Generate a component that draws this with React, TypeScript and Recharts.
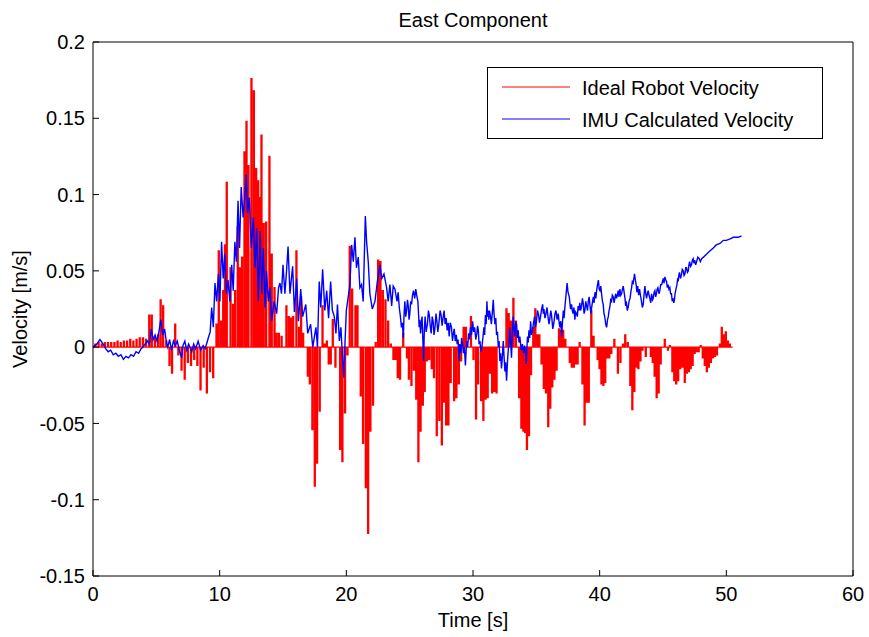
import React from 'react';
import { LineChart, Line, XAxis, YAxis, Legend, Label } from 'recharts';

const FONT = '"Liberation Sans", Arial, Helvetica, sans-serif';

const chartTitle = 'East Component';
const xLabel = 'Time [s]';
const yLabel = 'Velocity [m/s]';
const xTicks = [0, 10, 20, 30, 40, 50, 60];
const yTicks = [-0.15, -0.1, -0.05, 0, 0.05, 0.1, 0.15, 0.2];
const seriesNames = ['Ideal Robot Velocity', 'IMU Calculated Velocity'];
const seriesColors = ['#ff0000', '#0000ff'];

// Ideal robot velocity: pulses [time s, velocity m/s]
const idealPulses: [number, number][] = [
  [0.15, 0.002], [0.4, 0.003], [0.65, 0.002], [0.9, 0.003], [1.15, 0.003], [1.4, 0.003],
  [1.65, 0.003], [1.9, 0.004], [2.15, 0.003], [2.4, 0.004], [2.65, 0.004], [2.9, 0.005],
  [3.15, 0.004], [3.4, 0.005], [3.65, 0.006], [3.9, 0.006], [4.15, 0.005], [4.4, 0.021],
  [4.6, 0.021], [4.85, 0.006], [5.1, 0.008], [5.3, 0.031], [5.5, 0.027], [5.75, 0.004],
  [6.0, -0.012], [6.2, -0.017], [6.45, 0.015], [6.7, -0.005], [6.95, -0.015], [7.2, -0.021],
  [7.45, -0.01], [7.7, -0.012], [7.95, -0.008], [8.2, -0.012], [8.45, -0.028], [8.7, -0.013],
  [8.95, -0.03], [9.2, -0.016], [9.45, -0.02], [9.71, 0.015], [9.89, 0.063], [10.08, 0.017],
  [10.24, 0.037], [10.38, 0.067], [10.52, 0.108], [10.82, 0.052], [11.02, 0.028], [11.18, 0.037],
  [11.39, 0.079], [11.55, 0.052], [11.73, 0.059], [11.92, 0.128], [12.08, 0.148], [12.23, 0.119],
  [12.47, 0.176], [12.66, 0.168], [12.84, 0.117], [13.0, 0.109], [13.1, 0.098], [13.26, 0.139],
  [13.44, 0.081], [13.63, 0.082], [13.89, 0.125], [14.07, 0.061], [14.29, 0.039], [14.44, 0.009],
  [14.63, 0.009], [14.85, 0.007], [15.23, 0.027], [15.42, 0.02], [15.58, 0.019], [15.76, 0.02],
  [16.02, 0.063], [16.23, 0.013], [16.39, 0.033], [16.55, 0.009], [16.92, -0.019], [17.08, -0.024],
  [17.28, -0.054], [17.47, -0.091], [17.65, -0.076], [17.86, -0.042], [18.08, 0.027], [18.26, 0.002],
  [18.42, 0.004], [18.57, -0.011], [18.73, -0.011], [18.89, 0.018], [19.1, -0.013], [19.47, -0.067],
  [19.65, -0.075], [19.86, -0.043], [20.05, -0.005], [20.23, 0.066], [20.42, 0.038], [20.68, 0.027],
  [20.84, 0.027], [21.1, -0.032], [21.28, -0.063], [21.5, -0.092], [21.68, -0.122], [21.86, -0.055],
  [22.07, -0.038], [22.28, 0.003], [22.47, 0.057], [22.65, 0.056], [22.84, 0.037], [23.05, 0.031],
  [23.26, 0.017], [23.47, 0.002], [23.68, -0.008], [23.85, -0.008], [24.02, -0.02], [24.2, -0.021],
  [24.45, 0.009], [24.75, -0.007], [24.9, -0.021], [25.1, -0.025], [25.3, -0.015], [25.48, -0.034],
  [25.65, -0.075], [25.82, -0.055], [26.0, -0.038], [26.15, -0.029], [26.32, -0.009], [26.5, -0.008],
  [26.7, -0.014], [26.88, -0.02], [27.1, -0.058], [27.3, -0.048], [27.5, -0.064], [27.68, -0.036],
  [27.84, -0.051], [28.02, -0.051], [28.2, -0.023], [28.47, -0.035], [28.65, -0.033], [28.84, -0.024],
  [29.02, -0.009], [29.22, 0.013], [29.4, 0.013], [29.8, 0.02], [30.0, -0.008], [30.2, -0.047],
  [30.36, -0.024], [30.6, -0.035], [30.78, -0.048], [30.95, -0.034], [31.12, -0.033], [31.3, -0.017],
  [31.47, -0.03], [31.65, -0.029], [31.82, -0.03], [32.6, 0.025], [32.78, 0.022], [32.95, 0.017],
  [33.15, 0.032], [33.35, 0.017], [33.6, -0.033], [33.78, -0.053], [33.94, -0.055], [34.08, -0.056],
  [34.22, -0.067], [34.38, -0.058], [34.54, -0.018], [34.72, 0.013], [34.88, 0.025], [35.04, 0.008],
  [35.2, 0.008], [35.37, -0.011], [35.55, -0.027], [35.72, -0.03], [35.9, -0.052], [36.06, -0.04],
  [36.22, -0.026], [36.39, -0.021], [36.56, -0.015], [36.75, 0.012], [36.92, 0.011], [37.08, 0.011],
  [37.25, 0.005], [37.6, -0.01], [37.76, -0.013], [37.92, -0.013], [38.07, -0.011], [38.22, -0.011],
  [38.38, 0.003], [38.6, -0.024], [38.77, -0.051], [38.95, -0.036], [39.1, -0.036], [39.3, 0.024],
  [39.48, 0.007], [39.8, -0.008], [39.95, -0.014], [40.1, -0.024], [40.25, -0.025], [40.4, -0.023],
  [40.56, -0.007], [40.72, -0.007], [40.88, -0.004], [41.12, 0.005], [41.4, -0.017], [41.6, -0.01],
  [41.8, 0.002], [41.98, 0.008], [42.18, 0.003], [42.38, -0.025], [42.54, -0.041], [42.7, -0.029],
  [42.86, -0.013], [43.02, -0.014], [43.18, -0.009], [43.34, -0.002], [43.6, -0.006], [44.0, -0.006],
  [44.15, -0.01], [44.3, -0.019], [44.46, -0.033], [44.62, -0.03], [44.78, -0.011], [45.1, 0.005],
  [45.35, -0.002], [45.5, 0.001], [45.7, -0.016], [45.85, -0.022], [46.0, -0.024], [46.16, -0.022],
  [46.32, -0.014], [46.5, -0.013], [46.68, -0.023], [46.84, -0.017], [47.0, -0.016], [47.15, -0.014],
  [47.3, -0.012], [47.46, -0.004], [47.62, -0.003], [47.78, -0.003], [47.94, 0.001], [48.1, -0.007],
  [48.26, -0.012], [48.42, -0.016], [48.58, -0.013], [48.74, -0.01], [48.9, -0.007], [49.06, -0.006],
  [49.22, -0.005], [49.45, 0.002], [49.6, 0.013], [49.76, 0.008], [49.92, 0.01], [50.08, 0.004],
  [50.24, 0.002],
];
const idealEndTime = 50.5;
const idealPulseWidth = 0.08;

// IMU calculated velocity samples [time s, velocity m/s]
const imuSamples: [number, number][] = [
  [0, 0], [0.3, 0.002], [0.55, 0.005], [0.8, 0.002], [1.0, -0.001], [1.2, -0.003], [1.4, -0.002],
  [1.6, -0.005], [1.8, -0.004], [2.0, -0.006], [2.2, -0.005], [2.4, -0.008], [2.6, -0.006], [2.8, -0.007],
  [3.0, -0.005], [3.2, -0.006], [3.4, -0.003], [3.6, -0.004], [3.8, -0.001], [3.95, 0], [4.1, 0.002],
  [4.3, 0.004], [4.45, 0.002], [4.6, 0.012], [4.75, 0.005], [4.9, 0.008], [5.05, 0.004], [5.2, 0.01],
  [5.35, 0.018], [5.5, 0.008], [5.65, 0.012], [5.8, 0.003], [5.9, 0], [6.05, 0.005], [6.2, -0.002],
  [6.35, 0.004], [6.5, 0.001], [6.65, 0.004], [6.85, -0.003], [7.0, -0.007], [7.1, 0.001], [7.25, 0.004],
  [7.4, -0.002], [7.55, 0.002], [7.8, -0.003], [7.95, 0.002], [8.1, -0.001], [8.3, 0.004], [8.5, -0.002],
  [8.7, 0.001], [8.85, -0.001], [9.0, 0.003], [9.1, 0.006], [9.25, 0.01], [9.37, 0.026], [9.5, 0.013],
  [9.63, 0.042], [9.76, 0.03], [9.9, 0.048], [10.02, 0.03], [10.15, 0.069], [10.28, 0.045], [10.4, 0.061],
  [10.53, 0.035], [10.66, 0.044], [10.8, 0.03], [10.95, 0.054], [11.07, 0.037], [11.2, 0.069], [11.32, 0.056],
  [11.45, 0.096], [11.57, 0.065], [11.7, 0.105], [11.85, 0.085], [12.0, 0.1], [12.1, 0.113], [12.2, 0.088],
  [12.34, 0.098], [12.5, 0.065], [12.66, 0.085], [12.79, 0.052], [12.92, 0.078], [13.05, 0.03], [13.2, 0.076],
  [13.32, 0.035], [13.45, 0.065], [13.58, 0.026], [13.7, 0.05], [13.84, 0.03], [13.97, 0.039], [14.1, 0.017],
  [14.3, 0.03], [14.5, 0.022], [14.65, 0.039], [14.76, 0.042], [14.88, 0.035], [15.0, 0.054], [15.15, 0.035],
  [15.28, 0.05], [15.4, 0.066], [15.55, 0.035], [15.76, 0.053], [15.9, 0.023], [16.08, 0.045], [16.22, 0.017],
  [16.4, 0.038], [16.55, 0.02], [16.8, 0.028], [16.95, 0.009], [17.18, 0.015], [17.35, 0], [17.6, 0.013],
  [17.72, 0], [17.86, 0.043], [17.98, 0.026], [18.13, 0.051], [18.3, 0.024], [18.45, 0.037], [18.6, 0.019],
  [18.76, 0.043], [18.9, 0.024], [19.05, 0.02], [19.18, 0.009], [19.3, 0.028], [19.45, 0.004], [19.57, 0.013],
  [19.7, -0.007], [19.8, -0.02], [19.9, 0.004], [20.0, 0.024], [20.15, 0.033], [20.28, 0.041], [20.42, 0.067],
  [20.55, 0.056], [20.68, 0.072], [20.8, 0.052], [20.94, 0.059], [21.07, 0.039], [21.2, 0.041], [21.33, 0.03],
  [21.5, 0.086], [21.6, 0.069], [21.73, 0.056], [21.86, 0.035], [22.05, 0.025], [22.26, 0.03], [22.45, 0.043],
  [22.65, 0.054], [22.8, 0.045], [22.97, 0.048], [23.18, 0.039], [23.3, 0.03], [23.44, 0.041], [23.58, 0.027],
  [23.7, 0.04], [23.84, 0.038],
  [24.0, 0.03], [24.09, 0.036], [24.18, 0.026], [24.27, 0.02], [24.35, 0.013], [24.42, 0.016], [24.5, 0.006],
  [24.56, 0.022], [24.62, 0.03], [24.69, 0.02], [24.76, 0.024], [24.83, 0.031], [24.9, 0.026], [24.95, 0.018],
  [25.0, 0.021], [25.08, 0.03], [25.15, 0.028], [25.22, 0.034], [25.3, 0.037], [25.4, 0.032], [25.48, 0.038],
  [25.56, 0.034], [25.65, 0.03], [25.7, 0.022], [25.75, 0.013], [25.8, 0.018], [25.86, 0.009], [25.92, 0.016],
  [25.98, 0.02], [26.04, 0.005], [26.1, -0.009], [26.16, 0.012], [26.22, 0.02], [26.3, 0.01], [26.4, 0.015],
  [26.48, 0.024], [26.55, 0.021], [26.62, 0.014], [26.7, 0.009], [26.78, 0.02], [26.85, 0.017], [26.92, 0.008],
  [27.0, 0.013], [27.08, 0.022], [27.15, 0.017], [27.22, 0.01], [27.3, 0.015], [27.4, 0.024], [27.48, 0.021],
  [27.56, 0.014], [27.65, 0.02], [27.72, 0.024], [27.8, 0.015], [27.88, 0.019], [27.96, 0.011], [28.04, 0.016],
  [28.12, 0.007], [28.2, 0.016], [28.3, 0.013], [28.38, 0.004], [28.45, 0.009], [28.52, 0.012], [28.6, 0.004],
  [28.68, 0.008], [28.75, 0.002], [28.82, 0.005], [28.9, -0.009], [28.95, 0.002], [29.0, 0], [29.05, -0.004],
  [29.1, 0.006], [29.18, 0.002], [29.25, -0.004], [29.32, 0], [29.4, -0.012], [29.46, -0.002], [29.52, 0.004],
  [29.58, 0], [29.65, 0.009], [29.72, 0.005], [29.8, 0.013], [29.88, 0.008], [29.97, 0.017], [30.05, 0.01],
  [30.13, 0.013], [30.22, 0.005], [30.3, 0.009], [30.36, 0.014], [30.42, 0.011], [30.48, 0.002], [30.55, 0.004],
  [30.62, -0.003], [30.7, 0], [30.78, 0.006], [30.86, 0.013], [30.92, 0.008], [30.98, 0.021], [31.04, 0.015],
  [31.1, 0.03], [31.15, 0.02], [31.2, 0.024], [31.25, 0.018], [31.3, 0.024], [31.38, 0.02], [31.45, 0.015],
  [31.52, 0.022], [31.6, 0.031], [31.66, 0.022], [31.73, 0.015], [31.8, 0.019], [31.86, 0.008], [31.93, 0.01],
  [32.0, 0], [32.06, 0.004], [32.12, -0.009], [32.18, -0.004], [32.25, -0.014], [32.32, -0.006], [32.39, 0.004],
  [32.45, -0.006], [32.52, -0.016], [32.58, -0.01], [32.65, -0.022], [32.72, -0.01], [32.78, -0.002], [32.85, 0.004],
  [32.91, 0.013], [32.98, 0.002], [33.04, -0.007], [33.1, 0.008], [33.17, 0.02], [33.24, 0.012], [33.3, 0.007],
  [33.37, 0.016], [33.44, 0.015], [33.5, 0.006], [33.57, 0.011], [33.63, 0.003], [33.7, 0.007], [33.8, -0.002],
  [33.9, 0.002], [33.98, -0.004], [34.07, 0.001], [34.14, -0.004], [34.2, -0.011], [34.25, -0.002], [34.3, 0.007],
  [34.36, 0.003], [34.42, 0.011], [34.48, 0.006], [34.55, 0.017], [34.62, 0.008], [34.7, 0.011], [34.78, 0.016],
  [34.86, 0.02], [34.93, 0.013], [35.0, 0.016], [35.09, 0.024], [35.18, 0.021], [35.25, 0.016], [35.33, 0.02],
  [35.42, 0.025], [35.5, 0.028], [35.55, 0.022], [35.6, 0.025], [35.68, 0.019], [35.76, 0.022], [35.84, 0.026],
  [35.92, 0.02], [36.0, 0.015], [36.07, 0.019], [36.14, 0.024], [36.2, 0.021], [36.3, 0.012], [36.39, 0.016],
  [36.47, 0.022], [36.55, 0.024], [36.64, 0.018], [36.73, 0.022], [36.8, 0.016], [36.86, 0.013], [36.93, 0.017],
  [37.0, 0.007], [37.06, 0.016], [37.13, 0.024], [37.19, 0.019], [37.25, 0.026], [37.34, 0.034], [37.43, 0.042],
  [37.5, 0.036], [37.6, 0.033], [37.7, 0.025], [37.78, 0.028], [37.84, 0.024], [37.9, 0.022], [37.97, 0.026],
  [38.04, 0.018], [38.1, 0.023], [38.17, 0.022], [38.24, 0.02], [38.3, 0.027], [38.37, 0.024], [38.43, 0.029],
  [38.5, 0.024], [38.57, 0.027], [38.64, 0.032], [38.7, 0.029], [38.77, 0.022], [38.83, 0.024], [38.9, 0.03],
  [38.97, 0.027], [39.04, 0.024], [39.1, 0.03], [39.17, 0.033], [39.23, 0.028], [39.3, 0.022], [39.37, 0.026],
  [39.44, 0.03], [39.5, 0.033], [39.56, 0.029], [39.63, 0.036], [39.7, 0.032], [39.76, 0.037], [39.83, 0.041],
  [39.9, 0.044], [39.96, 0.038], [40.02, 0.037], [40.09, 0.04], [40.15, 0.035], [40.22, 0.03], [40.28, 0.028],
  [40.34, 0.022], [40.4, 0.02], [40.48, 0.015], [40.55, 0.013], [40.62, 0.018], [40.68, 0.02], [40.74, 0.024],
  [40.8, 0.026], [40.87, 0.031], [40.94, 0.03], [41.0, 0.034], [41.07, 0.033], [41.14, 0.029], [41.2, 0.032],
  [41.27, 0.035], [41.33, 0.032], [41.4, 0.034], [41.46, 0.037], [41.53, 0.033], [41.6, 0.038], [41.66, 0.034],
  [41.73, 0.035], [41.8, 0.038], [41.86, 0.04], [41.93, 0.036], [42.0, 0.032], [42.05, 0.027], [42.1, 0.03],
  [42.18, 0.024], [42.25, 0.026], [42.32, 0.03], [42.4, 0.032], [42.46, 0.036], [42.52, 0.039], [42.58, 0.043],
  [42.65, 0.042], [42.7, 0.045], [42.75, 0.048], [42.82, 0.044], [42.88, 0.041], [42.94, 0.036], [43.0, 0.04],
  [43.08, 0.034], [43.15, 0.038], [43.22, 0.034], [43.3, 0.03], [43.37, 0.026], [43.44, 0.028], [43.5, 0.034],
  [43.57, 0.04], [43.64, 0.035], [43.7, 0.032], [43.77, 0.035], [43.83, 0.037], [43.9, 0.034], [43.96, 0.032],
  [44.03, 0.029], [44.1, 0.035], [44.17, 0.031], [44.23, 0.032], [44.3, 0.036], [44.36, 0.037], [44.42, 0.033],
  [44.48, 0.035], [44.54, 0.038], [44.6, 0.039], [44.68, 0.035], [44.75, 0.037], [44.82, 0.041], [44.9, 0.041],
  [44.96, 0.043], [45.02, 0.045], [45.08, 0.042], [45.15, 0.046], [45.22, 0.044], [45.28, 0.043], [45.34, 0.039],
  [45.4, 0.041], [45.47, 0.038], [45.54, 0.039], [45.6, 0.035], [45.67, 0.035], [45.73, 0.03], [45.8, 0.032],
  [45.85, 0.029], [45.9, 0.031], [45.95, 0.035], [46.0, 0.037], [46.05, 0.039], [46.1, 0.041], [46.15, 0.044],
  [46.2, 0.043], [46.25, 0.047], [46.3, 0.049], [46.38, 0.045], [46.45, 0.047], [46.52, 0.051], [46.6, 0.05],
  [46.66, 0.047], [46.73, 0.048], [46.8, 0.052], [46.86, 0.052], [46.93, 0.049], [47.0, 0.05], [47.05, 0.054],
  [47.1, 0.056], [47.18, 0.053], [47.25, 0.054], [47.32, 0.057], [47.38, 0.058], [47.44, 0.055], [47.5, 0.057],
  [47.58, 0.054], [47.65, 0.056], [47.75, 0.059], [47.86, 0.058], [47.95, 0.056], [48.05, 0.058], [48.2, 0.059],
  [48.45, 0.061], [48.7, 0.063], [48.97, 0.065], [49.2, 0.067], [49.5, 0.068], [49.76, 0.07], [50.0, 0.07],
  [50.3, 0.071], [50.55, 0.072], [50.95, 0.072], [51.2, 0.073],
];

const idealData = (() => {
  const pts: { t: number; v: number }[] = [{ t: 0, v: 0 }];
  for (const [t, v] of idealPulses) {
    pts.push({ t, v: 0 }, { t, v }, { t: t + idealPulseWidth, v }, { t: t + idealPulseWidth, v: 0 });
  }
  pts.push({ t: idealEndTime, v: 0 });
  return pts;
})();

const imuData = imuSamples.map(([t, v]) => ({ t, v }));

const fmt = (v: number) => String(Number(v.toFixed(2)));

const LegendBox = () => (
  <div
    style={{
      width: 336,
      height: 72,
      boxSizing: 'border-box',
      border: '1px solid #000',
      background: '#fff',
    }}
  >
    <svg width={334} height={70} style={{ display: 'block' }}>
      {seriesNames.map((name, i) => (
        <g key={name}>
          <line x1={14} x2={82} y1={19 + i * 32} y2={19 + i * 32} stroke={seriesColors[i]} strokeWidth={1} />
          <text x={94} y={27 + i * 32} fontSize={20} fontFamily={FONT} fill="#000">
            {name}
          </text>
        </g>
      ))}
    </svg>
  </div>
);

export default function App() {
  const axisStroke = { stroke: '#000', strokeWidth: 1 };
  const tickStyle = { fill: '#000', fontSize: 20, fontFamily: FONT };
  return (
    <div style={{ position: 'absolute', left: 0, top: 0, width: 869, height: 637, background: '#fff' }}>
      <LineChart width={869} height={637} margin={{ top: 41, right: 15, bottom: 0, left: 0 }}>
        <XAxis
          xAxisId="bottom"
          dataKey="t"
          type="number"
          domain={[0, 60]}
          ticks={xTicks}
          interval={0}
          height={61}
          tickSize={-6}
          tickMargin={17}
          axisLine={axisStroke}
          tickLine={axisStroke}
          tick={tickStyle}
          tickFormatter={fmt}
        >
          <Label value={xLabel} position="insideBottom" offset={10} style={{ fill: '#000', fontSize: 20, fontFamily: FONT }} />
        </XAxis>
        <XAxis
          xAxisId="top"
          orientation="top"
          dataKey="t"
          type="number"
          domain={[0, 60]}
          ticks={xTicks}
          interval={0}
          height={1}
          tickSize={-6}
          axisLine={axisStroke}
          tickLine={axisStroke}
          tick={false}
        >
          <Label value={chartTitle} position="top" offset={14} style={{ fill: '#000', fontSize: 20, fontFamily: FONT }} />
        </XAxis>
        <YAxis
          yAxisId="left"
          type="number"
          domain={[-0.15, 0.2]}
          ticks={yTicks}
          interval={0}
          width={93}
          tickSize={-6}
          tickMargin={14}
          axisLine={axisStroke}
          tickLine={axisStroke}
          tick={tickStyle}
          tickFormatter={fmt}
        >
          <Label
            value={yLabel}
            angle={-90}
            position="insideLeft"
            offset={20}
            style={{ fill: '#000', fontSize: 20, fontFamily: FONT, textAnchor: 'middle' }}
          />
        </YAxis>
        <YAxis
          yAxisId="right"
          orientation="right"
          type="number"
          domain={[-0.15, 0.2]}
          ticks={yTicks}
          interval={0}
          width={1}
          tickSize={-6}
          axisLine={axisStroke}
          tickLine={axisStroke}
          tick={false}
        />
        <Legend
          layout="horizontal"
          verticalAlign="middle"
          align="center"
          content={() => <LegendBox />}
          wrapperStyle={{ position: 'absolute', left: 487, top: 67, width: 336, height: 72 }}
        />
        <Line
          xAxisId="top"
          yAxisId="right"
          data={imuData}
          dataKey="v"
          stroke="none"
          strokeWidth={0}
          dot={false}
          activeDot={false}
          legendType="none"
          isAnimationActive={false}
        />
        <Line
          xAxisId="bottom"
          yAxisId="left"
          data={idealData}
          dataKey="v"
          name={seriesNames[0]}
          stroke={seriesColors[0]}
          strokeWidth={1.3}
          dot={false}
          activeDot={false}
          isAnimationActive={false}
          type="linear"
        />
        <Line
          xAxisId="bottom"
          yAxisId="left"
          data={imuData}
          dataKey="v"
          name={seriesNames[1]}
          stroke={seriesColors[1]}
          strokeWidth={1.4}
          dot={false}
          activeDot={false}
          isAnimationActive={false}
          type="linear"
        />
      </LineChart>
    </div>
  );
}
